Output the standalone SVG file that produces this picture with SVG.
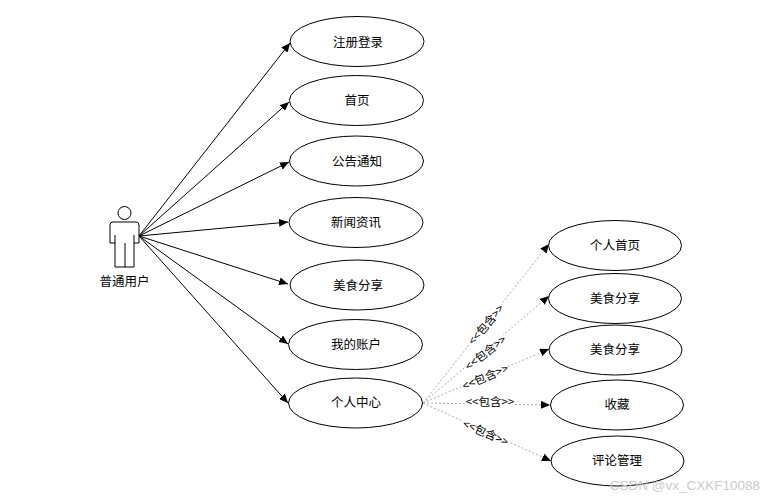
<svg xmlns="http://www.w3.org/2000/svg" width="769" height="499" viewBox="0 0 769 499">
<style>
text{font-family:"Noto Sans CJK SC","Liberation Sans",sans-serif;font-size:12.500px;fill:#000;text-anchor:middle;dominant-baseline:central}
ellipse{fill:#fff;stroke:#000;stroke-width:1}
.s{stroke:#000;stroke-width:1;fill:none}
.d{stroke:#aaa;stroke-width:1;fill:none;stroke-dasharray:2 2}
text.l{font-size:11.500px}
.b{fill:#fff}
</style>
<defs>
<marker id="a" markerWidth="10" markerHeight="8" refX="9" refY="4" orient="auto" markerUnits="userSpaceOnUse"><path d="M0 0L9 4L0 8Z" fill="#000"/></marker>
</defs>
<rect width="769" height="499" fill="#fff"/>
<g id="connectors">
<path class="s" marker-end="url(#a)" d="M139 236L290 43"/>
<path class="s" marker-end="url(#a)" d="M139 236L289 102"/>
<path class="s" marker-end="url(#a)" d="M139 236L289 162"/>
<path class="s" marker-end="url(#a)" d="M139 236L288 222"/>
<path class="s" marker-end="url(#a)" d="M139 236L288 284"/>
<path class="s" marker-end="url(#a)" d="M139 236L288 344"/>
<path class="s" marker-end="url(#a)" d="M139 236L288 403"/>
<path class="d" marker-end="url(#a)" d="M423 403L549 244"/>
<path class="d" marker-end="url(#a)" d="M423 403L549 296"/>
<path class="d" marker-end="url(#a)" d="M423 403L549 349"/>
<path class="d" marker-end="url(#a)" d="M423 403L550 405"/>
<path class="d" marker-end="url(#a)" d="M423 403L551 461"/>
</g>
<g id="actor" fill="#fff" stroke="#000">
<circle cx="124.500" cy="213" r="6.500"/>
<path d="M113 222H136Q139 222 139 225V243H134V267H115V243H110V225Q110 222 113 222Z"/>
<path d="M125 243V267M115 235V243M134 235V243"/>
<text x="124.500" y="280" stroke="none">普通用户</text>
</g>
<g id="n1"><ellipse cx="357" cy="41.500" rx="67" ry="25"/><text x="358" y="41">注册登录</text></g>
<g id="n2"><ellipse cx="356.500" cy="100.500" rx="67" ry="25"/><text x="357" y="99">首页</text></g>
<g id="n3"><ellipse cx="356.500" cy="161" rx="67" ry="25"/><text x="357" y="160">公告通知</text></g>
<g id="n4"><ellipse cx="356" cy="222.500" rx="67" ry="25"/><text x="356" y="221">新闻资讯</text></g>
<g id="n5"><ellipse cx="357" cy="285" rx="67" ry="25"/><text x="358" y="284">美食分享</text></g>
<g id="n6"><ellipse cx="355.500" cy="344.500" rx="67" ry="25"/><text x="356" y="343">我的账户</text></g>
<g id="n7"><ellipse cx="355.500" cy="403" rx="67" ry="25"/><text x="356" y="401">个人中心</text></g>
<g id="n8"><ellipse cx="615" cy="245.500" rx="66.500" ry="25"/><text x="615" y="244">个人首页</text></g>
<g id="n9"><ellipse cx="615" cy="298.500" rx="66.500" ry="25"/><text x="615" y="297">美食分享</text></g>
<g id="n10"><ellipse cx="615.500" cy="350" rx="66.500" ry="25"/><text x="615" y="348">美食分享</text></g>
<g id="n11"><ellipse cx="617" cy="405" rx="66.500" ry="25"/><text x="617" y="403">收藏</text></g>
<g id="n12"><ellipse cx="617.500" cy="461" rx="66.500" ry="25"/><text x="617" y="459">评论管理</text></g>
<g id="labels">
<g transform="rotate(-50 485.500 324)"><rect class="b" x="461" y="318" width="49" height="12"/><text class="l" x="485.500" y="324">&lt;&lt;包含&gt;&gt;</text></g>
<g transform="rotate(-38 485 352)"><rect class="b" x="460" y="346" width="50" height="12"/><text class="l" x="485" y="352">&lt;&lt;包含&gt;&gt;</text></g>
<g transform="rotate(-23 485 376.500)"><rect class="b" x="460" y="370.500" width="50" height="12"/><text class="l" x="485" y="376.500">&lt;&lt;包含&gt;&gt;</text></g>
<rect class="b" x="465" y="395" width="50" height="13"/>
<text class="l" x="490" y="401">&lt;&lt;包含&gt;&gt;</text>
<g transform="rotate(24 486 432)"><rect class="b" x="461" y="426" width="50" height="12"/><text class="l" x="486" y="432">&lt;&lt;包含&gt;&gt;</text></g>
</g>
<text x="685" y="485" style="font-family:'Liberation Sans',sans-serif;font-size:13.500px;fill:#ccc">CSDN @vx_CXKF10088</text>
</svg>
